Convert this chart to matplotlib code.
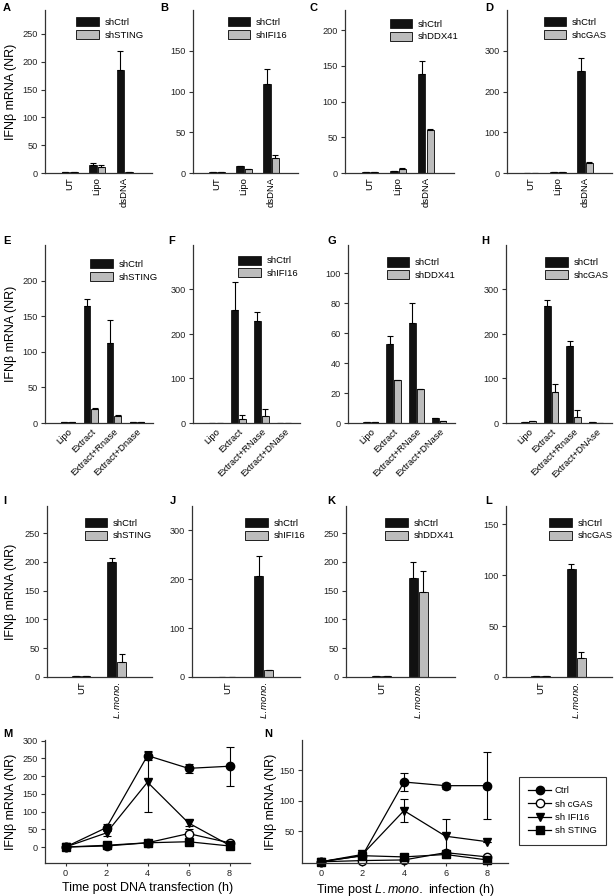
import matplotlib

matplotlib.use("Agg")
import matplotlib.pyplot as plt
from matplotlib.lines import Line2D
from matplotlib.patches import Patch

plt.rcParams["font.family"] = ["Liberation Sans", "DejaVu Sans"]
plt.rcParams["mathtext.fontset"] = "custom"
plt.rcParams["mathtext.it"] = "Liberation Sans:italic"

W, H = 615, 896
_DARK = "#111111"
_GREY = "#bcbcbc"
_SPINE = "#333333"
YLABEL = "IFNβ mRNA (NR)"

# ---- row 1: dsDNA transfection (A-D) ----
ROW1_CATS = ["UT", "Lipo", "dsDNA"]
A_CTRL, A_CTRL_ERR = [1, 15, 185], [0, 3, 35]
A_KD, A_KD_ERR = [1, 11, 2], [0, 3, 0]
B_CTRL, B_CTRL_ERR = [1, 9, 109], [0, 0, 18]
B_KD, B_KD_ERR = [1.5, 5, 19], [0, 0, 3]
C_CTRL, C_CTRL_ERR = [1, 3, 138], [0, 0, 18]
C_KD, C_KD_ERR = [1, 6, 60], [0, 1, 1]
D_CTRL, D_CTRL_ERR = [1, 3, 250], [0, 0, 32]
D_KD, D_KD_ERR = [1, 3, 25], [0, 0, 3]

# ---- row 2: cell extracts (E-H) ----
E_CATS = ["Lipo", "Extract", "Extract+Rnase", "Extract+Dnase"]
F_CATS = ["Lipo", "Extract", "Extract+RNase", "Extract+DNase"]
G_CATS = ["Lipo", "Extract", "Extract+RNase", "Extract+DNase"]
H_CATS = ["Lipo", "Extract", "Extract+Rnase", "Extract+DNAse"]
E_CTRL, E_CTRL_ERR = [1, 165, 112, 1], [0, 9, 32, 0]
E_KD, E_KD_ERR = [1, 19, 10, 1], [0, 2, 1, 0]
F_CTRL, F_CTRL_ERR = [1, 253, 230, 1], [0, 63, 20, 0]
F_KD, F_KD_ERR = [1, 9, 16, 0.5], [0, 8, 16, 0]
G_CTRL, G_CTRL_ERR = [1, 53, 67, 3.5], [0, 5, 13, 0]
G_KD, G_KD_ERR = [0.7, 29, 23, 1.5], [0, 0, 0, 0]
H_CTRL, H_CTRL_ERR = [3, 262, 172, 3], [0, 15, 13, 0]
H_KD, H_KD_ERR = [4, 70, 14, 1], [0, 17, 15, 0]

# ---- row 3: L. monocytogenes infection (I-L) ----
ROW3_CATS = ["UT", "$\\mathit{L.mono.}$"]
I_CTRL, I_CTRL_ERR = [1, 200], [0, 6]
I_KD, I_KD_ERR = [1, 26], [0, 14]
J_CTRL, J_CTRL_ERR = [1, 207], [0, 40]
J_KD, J_KD_ERR = [1, 15], [0, 0]
K_CTRL, K_CTRL_ERR = [1, 172], [0, 28]
K_KD, K_KD_ERR = [1, 147], [0, 37]
L_CTRL, L_CTRL_ERR = [1, 106], [0, 5]
L_KD, L_KD_ERR = [1, 19], [0, 6]

# ---- row 4: time courses (M, N) ----
TIME_H = [0, 2, 4, 6, 8]
SERIES = ["Ctrl", "sh cGAS", "sh IFI16", "sh STING"]
M_CTRL, M_CTRL_ERR = [0, 55, 258, 222, 228], [0, 10, 12, 12, 55]
M_CGAS, M_CGAS_ERR = [0, 3, 12, 38, 12], [0, 0, 0, 12, 0]
M_IFI16, M_IFI16_ERR = [0, 40, 183, 68, 5], [0, 10, 85, 8, 0]
M_STING, M_STING_ERR = [0, 5, 12, 15, 3], [0, 0, 0, 4, 0]
N_CTRL, N_CTRL_ERR = [0, 10, 131, 125, 125], [0, 0, 15, 5, 55]
N_CGAS, N_CGAS_ERR = [0, 2, 3, 15, 8], [0, 0, 0, 0, 0]
N_IFI16, N_IFI16_ERR = [0, 12, 84, 42, 33], [0, 0, 19, 29, 0]
N_STING, N_STING_ERR = [0, 10, 8, 12, 3], [0, 0, 0, 5, 0]


def _axes(fig, x0, y0, x1, y1):
    return fig.add_axes([x0 / W, 1 - y1 / H, (x1 - x0) / W, (y1 - y0) / H])


def _style(ax):
    for side in ("top", "right"):
        ax.spines[side].set_visible(False)
    for side in ("left", "bottom"):
        ax.spines[side].set_color(_SPINE)
        ax.spines[side].set_linewidth(0.9)
    ax.tick_params(axis="y", direction="out", length=3, width=0.8, colors=_SPINE,
                   labelsize=6.6, labelcolor="#222222", pad=2)


def _ylabel(ax, right_px, axis_left_px, axis_width_px):
    # the label's right edge sits at right_px (figure pixels)
    ax.set_ylabel(YLABEL, fontsize=9)
    ax.yaxis.set_label_coords((right_px - axis_left_px) / axis_width_px, 0.5)


def _bars(ax, cats, ctrl, ctrl_err, kd, kd_err, kd_name, ylim, yticks, xlim, width,
          rot, leg_x, leg_y):
    _style(ax)
    pos = list(range(len(cats)))
    off = width / 2 + 0.02
    ekw = dict(ecolor="black", elinewidth=0.8, capsize=2.5, capthick=0.8)
    ax.bar([p - off for p in pos], ctrl, width, color=_DARK, edgecolor="black", linewidth=0.5,
           yerr=[[0] * len(ctrl), ctrl_err], error_kw=ekw)
    ax.bar([p + off for p in pos], kd, width, color=_GREY, edgecolor="black", linewidth=0.6,
           yerr=[[0] * len(kd), kd_err], error_kw=ekw)
    ax.set_xlim(*xlim)
    ax.set_ylim(*ylim)
    ax.set_yticks(yticks)
    ax.set_xticks(pos)
    if rot == 90:
        ax.set_xticklabels(cats, rotation=90, ha="center", va="top", fontsize=6.8)
    else:
        ax.set_xticklabels(cats, rotation=45, ha="right", va="top", fontsize=6.8,
                           rotation_mode="anchor")
    ax.tick_params(axis="x", length=0, pad=3)
    handles = [Patch(facecolor=_DARK, edgecolor="black", linewidth=0.5),
               Patch(facecolor=_GREY, edgecolor="black", linewidth=0.6)]
    ax.legend(handles, ["shCtrl", kd_name], loc="upper left", bbox_to_anchor=(leg_x, leg_y),
              frameon=False, fontsize=6.8, handlelength=2.4, handleheight=1.1,
              labelspacing=0.3, handletextpad=0.6, borderpad=0, borderaxespad=0)


def _label(fig, x, y, s):
    fig.text(x / W, 1 - y / H, s, fontsize=8, fontweight="bold", ha="left", va="center")


def _curves(ax, ys, errs, xlim, ylim, yticks):
    _style(ax)
    styles = [dict(marker="o", mfc="black"), dict(marker="o", mfc="white"),
              dict(marker="v", mfc="black"), dict(marker="s", mfc="black")]
    for y, e, st in zip(ys, errs, styles, strict=True):
        ax.errorbar(TIME_H, y, yerr=e, color="black", lw=0.9, ms=6, mec="black",
                    elinewidth=0.8, capsize=3, capthick=0.8, clip_on=False, **st)
    ax.set_xlim(*xlim)
    ax.set_ylim(*ylim)
    ax.set_yticks(yticks)
    ax.set_xticks(TIME_H)
    ax.tick_params(axis="x", direction="out", length=2, width=0.8, colors=_SPINE,
                   labelsize=6.6, labelcolor="#222222", pad=2)


fig = plt.figure(figsize=(W / 100, H / 100), dpi=100)

# row 1
r1 = dict(xlim=(-0.9, 3.0), width=0.27, rot=90)
ax = _axes(fig, 45, 10, 152, 173)
_bars(ax, ROW1_CATS, A_CTRL, A_CTRL_ERR, A_KD, A_KD_ERR, "shSTING", (0, 293),
      [0, 50, 100, 150, 200, 250], leg_x=0.29, leg_y=0.955, **r1)
_ylabel(ax, 17, 45, 107)
ax = _axes(fig, 193, 10, 298, 173)
_bars(ax, ROW1_CATS, B_CTRL, B_CTRL_ERR, B_KD, B_KD_ERR, "shIFI16", (0, 200),
      [0, 50, 100, 150], leg_x=0.33, leg_y=0.955, **r1)
ax = _axes(fig, 345, 10, 454, 173)
_bars(ax, ROW1_CATS, C_CTRL, C_CTRL_ERR, C_KD, C_KD_ERR, "shDDX41", (0, 228),
      [0, 50, 100, 150, 200], leg_x=0.41, leg_y=0.945, **r1)
ax = _axes(fig, 507, 10, 612, 173)
_bars(ax, ROW1_CATS, D_CTRL, D_CTRL_ERR, D_KD, D_KD_ERR, "shcGAS", (0, 400),
      [0, 100, 200, 300], leg_x=0.35, leg_y=0.955, **r1)

# row 2
r2 = dict(xlim=(-1.0, 3.7), width=0.3, rot=45)
ax = _axes(fig, 45, 245, 153, 423)
_bars(ax, E_CATS, E_CTRL, E_CTRL_ERR, E_KD, E_KD_ERR, "shSTING", (0, 250),
      [0, 50, 100, 150, 200], leg_x=0.42, leg_y=0.92, **r2)
_ylabel(ax, 17, 45, 108)
ax = _axes(fig, 193, 245, 300, 423)
_bars(ax, F_CATS, F_CTRL, F_CTRL_ERR, F_KD, F_KD_ERR, "shIFI16", (0, 400),
      [0, 100, 200, 300], leg_x=0.42, leg_y=0.94, **r2)
ax = _axes(fig, 348, 245, 455, 423)
_bars(ax, G_CATS, G_CTRL, G_CTRL_ERR, G_KD, G_KD_ERR, "shDDX41", (0, 119),
      [0, 20, 40, 60, 80, 100], leg_x=0.36, leg_y=0.93, **r2)
ax = _axes(fig, 506, 245, 612, 423)
_bars(ax, H_CATS, H_CTRL, H_CTRL_ERR, H_KD, H_KD_ERR, "shcGAS", (0, 400),
      [0, 100, 200, 300], leg_x=0.37, leg_y=0.93, **r2)

# row 3
r3 = dict(xlim=(-0.97, 2.0), width=0.24, rot=90)
ax = _axes(fig, 47, 506, 152, 677)
_bars(ax, ROW3_CATS, I_CTRL, I_CTRL_ERR, I_KD, I_KD_ERR, "shSTING", (0, 297),
      [0, 50, 100, 150, 200, 250], leg_x=0.36, leg_y=0.93, **r3)
_ylabel(ax, 17, 47, 105)
ax = _axes(fig, 192, 506, 300, 677)
_bars(ax, ROW3_CATS, J_CTRL, J_CTRL_ERR, J_KD, J_KD_ERR, "shIFI16", (0, 349),
      [0, 100, 200, 300], leg_x=0.49, leg_y=0.93, **r3)
ax = _axes(fig, 346, 506, 455, 677)
_bars(ax, ROW3_CATS, K_CTRL, K_CTRL_ERR, K_KD, K_KD_ERR, "shDDX41", (0, 297),
      [0, 50, 100, 150, 200, 250], leg_x=0.36, leg_y=0.93, **r3)
ax = _axes(fig, 506, 506, 612, 677)
_bars(ax, ROW3_CATS, L_CTRL, L_CTRL_ERR, L_KD, L_KD_ERR, "shcGAS", (0, 168),
      [0, 50, 100, 150], leg_x=0.41, leg_y=0.93, **r3)

# row 4
ax = _axes(fig, 45, 740, 250, 863)
_curves(ax, [M_CTRL, M_CGAS, M_IFI16, M_STING],
        [M_CTRL_ERR, M_CGAS_ERR, M_IFI16_ERR, M_STING_ERR],
        (-1.0, 9.0), (-45, 302), [0, 50, 100, 150, 200, 250, 300])
_ylabel(ax, 17, 45, 205)
ax.set_xlabel("Time post DNA transfection (h)", fontsize=9, labelpad=3)
ax = _axes(fig, 302, 740, 508, 863)
_curves(ax, [N_CTRL, N_CGAS, N_IFI16, N_STING],
        [N_CTRL_ERR, N_CGAS_ERR, N_IFI16_ERR, N_STING_ERR],
        (-0.9, 9.0), (-2, 200), [50, 100, 150])
_ylabel(ax, 277, 302, 206)
ax.set_xlabel("Time post $\\mathit{L.mono.}$ infection (h)", fontsize=9, labelpad=3)

leg_handles = [
    Line2D([], [], color="black", lw=0.9, marker="o", mfc="black", ms=6),
    Line2D([], [], color="black", lw=0.9, marker="o", mfc="white", mec="black", ms=6),
    Line2D([], [], color="black", lw=0.9, marker="v", mfc="black", ms=6),
    Line2D([], [], color="black", lw=0.9, marker="s", mfc="black", ms=6),
]
leg = fig.legend(leg_handles, SERIES, loc="upper left", bbox_to_anchor=(519 / W, 1 - 777 / H),
                 fontsize=6.8, frameon=True, fancybox=False, edgecolor="black",
                 handlelength=2.4, handletextpad=0.4, labelspacing=0.45, borderpad=1.0,
                 borderaxespad=0)
leg.get_frame().set_linewidth(0.8)

for x, y, s in [(3, 8, "A"), (160, 8, "B"), (309, 8, "C"), (485, 8, "D"),
                (3, 241, "E"), (168, 241, "F"), (327, 241, "G"), (481, 241, "H"),
                (3, 501, "I"), (170, 501, "J"), (327, 501, "K"), (485, 501, "L"),
                (3, 734, "M"), (264, 734, "N")]:
    _label(fig, x, y, s)

fig.savefig("out.png", dpi=100)
plt.close(fig)
